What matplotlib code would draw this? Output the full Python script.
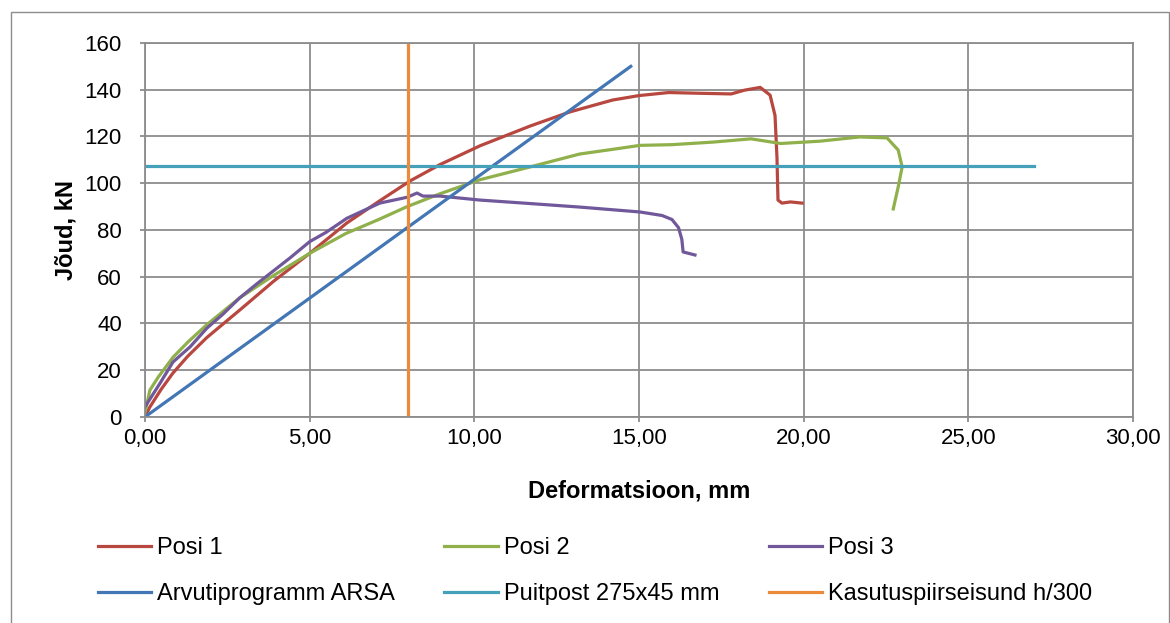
import numpy as np
import matplotlib.pyplot as plt
from matplotlib.patches import Rectangle

plt.rcParams['font.family'] = ['Liberation Sans', 'DejaVu Sans']

# Andmed (loetud graafikult)
posi1_x = [0.0, 0.15, 0.5, 0.85, 1.3, 1.88, 2.9, 3.9, 5.0, 6.13, 7.13, 8.05, 8.96, 10.17,
           11.7, 12.9, 14.2, 15.0, 15.9, 16.8, 17.8, 18.2, 18.68, 18.98, 19.13, 19.19,
           19.22, 19.34, 19.6, 19.95]
posi1_y = [0, 4.3, 12, 18.8, 26, 34, 46, 58, 70, 83, 92.5, 101, 108, 116,
           124.5, 130.5, 135.6, 137.5, 138.8, 138.5, 138.2, 139.8, 141, 137.7, 129, 110.8,
           92.8, 91.5, 92, 91.5]

posi2_x = [0.0, 0.05, 0.15, 0.4, 0.85, 1.3, 1.88, 2.88, 3.9, 5.0, 6.1, 7.1, 7.96, 8.96,
           10.17, 11.7, 13.2, 14.2, 15.03, 16.0, 17.25, 18.4, 19.3, 20.5, 21.7, 22.53,
           22.87, 22.99, 22.87, 22.72]
posi2_y = [2, 5, 11.5, 17, 25.5, 32, 39.5, 51, 60.5, 70, 78.5, 84.5, 90, 95.5,
           101.5, 107, 112.5, 114.5, 116.2, 116.5, 117.6, 119, 117, 118, 119.8, 119.4,
           114.2, 107, 98.4, 89]

posi3_x = [0.0, 0.46, 0.85, 1.37, 1.88, 2.37, 2.88, 3.4, 4.4, 5.0, 5.5, 6.13, 7.13, 7.96,
           8.26, 8.44, 8.96, 10.17, 11.5, 13.2, 15.03, 15.7, 16.0, 16.2, 16.3, 16.34, 16.7]
posi3_y = [4.3, 14.5, 23.5, 30, 38, 44, 51, 57, 68, 75, 79, 85, 91.5, 94,
           95.8, 94.5, 94.5, 92.8, 91.5, 89.8, 87.7, 86.2, 84.5, 81, 76, 70.6, 69.3]

arsa_x = [0.0, 14.75]
arsa_y = [0, 150]

puitpost_x = [0.0, 27.0]
puitpost_y = [107.4, 107.4]

kasutus_x = [8.0, 8.0]
kasutus_y = [0, 160]

xticks = [0, 5, 10, 15, 20, 25, 30]
yticks = [0, 20, 40, 60, 80, 100, 120, 140, 160]

fig = plt.figure(figsize=(11.7, 6.23), dpi=100)
ax = fig.add_axes([0.1239, 0.3307, 0.8445, 0.6003])

lw = 2.3
l1, = ax.plot(posi1_x, posi1_y, color='#B7473F', lw=lw, label='Posi 1')
l2, = ax.plot(posi2_x, posi2_y, color='#8FB04A', lw=lw, label='Posi 2')
l3, = ax.plot(posi3_x, posi3_y, color='#71589A', lw=lw, label='Posi 3')
l4, = ax.plot(arsa_x, arsa_y, color='#4376B5', lw=lw, label='Arvutiprogramm ARSA')
l5, = ax.plot(puitpost_x, puitpost_y, color='#45A1BA', lw=lw, label='Puitpost 275x45 mm')
l6, = ax.plot(kasutus_x, kasutus_y, color='#EA8A3A', lw=lw, label='Kasutuspiirseisund h/300')

ax.set_xlim(0, 30)
ax.set_ylim(0, 160)
ax.set_xticks(xticks)
ax.set_xticklabels([f'{v:.2f}'.replace('.', ',') for v in xticks])
ax.set_yticks(yticks)
ax.grid(True, color='#8C8C8C', lw=1.3)
ax.set_axisbelow(True)
for s in ax.spines.values():
    s.set_color('#8C8C8C')
    s.set_linewidth(1.3)
ax.tick_params(axis='both', labelsize=16, length=3.6, width=1.3, color='#8C8C8C')
ax.tick_params(axis='x', pad=4)
ax.tick_params(axis='y', pad=13)

ax.set_xlabel('Deformatsioon, mm', fontsize=17, fontweight='bold', labelpad=22)
ax.set_ylabel('Jõud, kN', fontsize=17, fontweight='bold', labelpad=5)

# legend rea kaupa: veergude kaupa täitmise tõttu järjestus ümber
h = [l1, l4, l2, l5, l3, l6]
fig.legend(h, [x.get_label() for x in h], loc='upper left', bbox_to_anchor=(0.0656, 0.1715),
           ncol=3, fontsize=17, frameon=False, handlelength=2.25, handletextpad=0.25,
           columnspacing=2.1, labelspacing=1.0)

# raam
fig.patches.append(Rectangle((0.009, -0.01), 0.99, 0.99, transform=fig.transFigure,
                             fill=False, edgecolor='#8C8C8C', lw=1.0))

fig.savefig('out.png', dpi=100)
